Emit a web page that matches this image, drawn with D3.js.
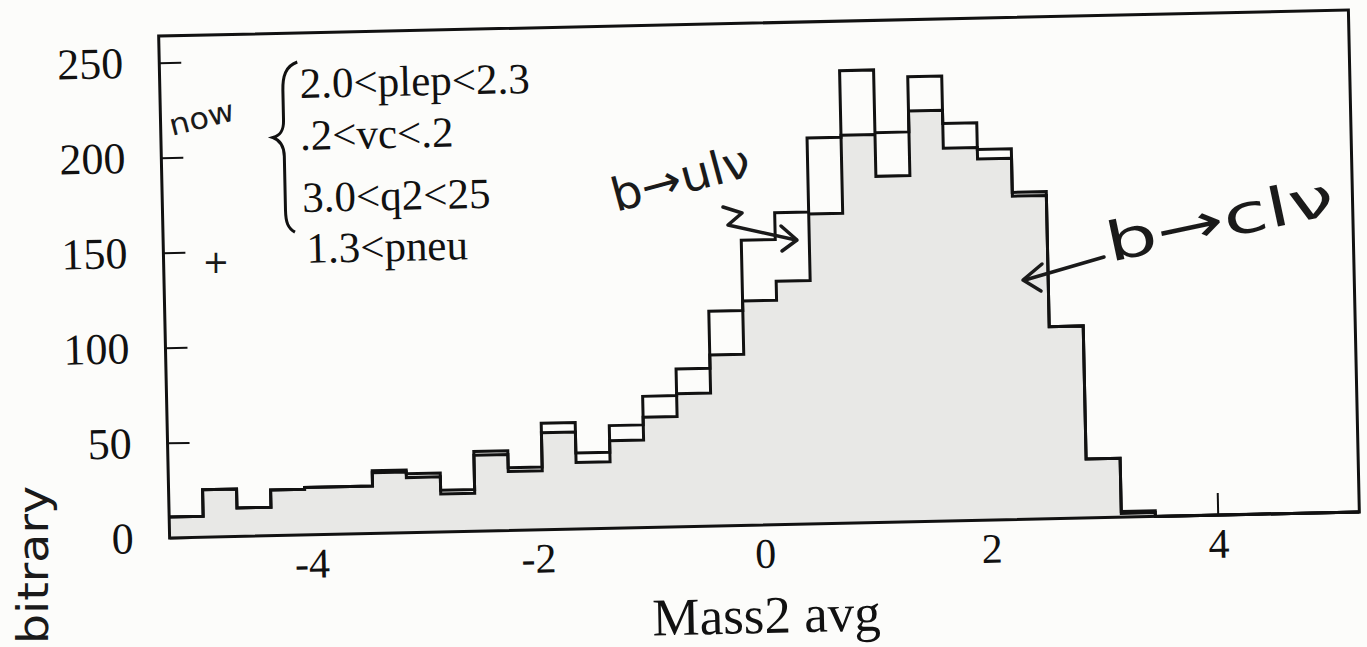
<!DOCTYPE html>
<html>
<head>
<meta charset="utf-8">
<script src="https://cdn.jsdelivr.net/npm/d3@7"></script>
<style>
  body { margin: 0; background: #fcfcfa; }
  svg { display: block; }
</style>
</head>
<body>
<svg id="chart" width="1367" height="647"></svg>
<script>
// bin starts (width 0.3) for Mass2 avg
const binStart = [-5.25, -4.95, -4.65, -4.35, -4.05, -3.75, -3.45, -3.15, -2.85, -2.55,
                  -2.25, -1.95, -1.65, -1.35, -1.05, -0.75, -0.45, -0.15, 0.15, 0.45,
                  0.75, 1.05, 1.35, 1.65, 1.95, 2.25, 2.55, 2.85, 3.15, 3.45,
                  3.75, 4.05, 4.35, 4.65, 4.95];
const binEnd = 5.25;

// b -> c l nu (grey filled histogram)
const clnu = [11, 25, 15, 24, 25, 25, 32, 29, 20, 40,
              31, 51, 35, 46, 58, 70, 90, 118, 128, 163,
              204, 182, 216, 196, 190, 170, 101, 31, 2, 0,
              0, 0, 0, 0, 0];
// b -> u l nu on top (outline histogram)
const ulnu = [11, 25, 15, 24, 25, 25, 33, 31, 22, 42,
              33, 56, 40, 54, 69, 83, 113, 150, 164, 203,
              238, 205, 234, 209, 195, 172, 101, 31, 3, 0,
              0, 0, 0, 0, 0];

const xTicks = [-4, -2, 0, 2, 4];
const yTicks = [0, 50, 100, 150, 200, 250];
const xTitle = "Mass2 avg";
const cuts = ["2.0<plep<2.3", ".2<vc<.2", "3.0<q2<25", "1.3<pneu"];

// plot frame (before the small scan tilt)
const frame = {left: 164, top: 23, right: 1354, bottom: 525};

const svg = d3.select("#chart");
const serif = "'Liberation Serif', 'Times New Roman', serif";
const hand = "'DejaVu Sans', sans-serif";

// the printed page is slightly rotated on the scan
const page = svg.append("g").attr("transform", "rotate(-1.25, 759, 274)");

const x = d3.scaleLinear().domain([binStart[0], binEnd]).range([frame.left, frame.right]);
const y = d3.scaleLinear().domain([0, 264]).range([frame.bottom, frame.top]);

// axes (ticks pointing inwards)
const yAxis = page.append("g")
    .attr("transform", "translate(" + frame.left + ",0)")
    .call(d3.axisLeft(y).tickValues(yTicks).tickSize(-22).tickPadding(36).tickFormat(d => String(d)));
const xAxis = page.append("g")
    .attr("transform", "translate(0," + frame.bottom + ")")
    .call(d3.axisBottom(x).tickValues(xTicks).tickSize(-22).tickPadding(13).tickFormat(d => String(d)));

[yAxis, xAxis].forEach(ax => {
    ax.select(".domain").remove();
    ax.selectAll(".tick line").attr("stroke", "#111").attr("stroke-width", 2);
    ax.selectAll(".tick text").attr("fill", "#111").style("font-family", serif);
});
yAxis.selectAll(".tick text").style("font-size", "44px");
xAxis.selectAll(".tick text").style("font-size", "42px");

// step histograms
function steps(vals) {
    const pts = binStart.map((b, i) => [b, vals[i]]);
    pts.push([binEnd, vals[vals.length - 1]]);
    return pts;
}

const area = d3.area()
    .curve(d3.curveStepAfter)
    .x(d => x(d[0]))
    .y0(y(0))
    .y1(d => y(d[1]));
const line = d3.line()
    .curve(d3.curveStepAfter)
    .x(d => x(d[0]))
    .y(d => y(d[1]));

page.append("path")
    .attr("d", area(steps(clnu)))
    .attr("fill", "#e8e8e6");
page.append("path")
    .attr("d", line(steps(clnu)))
    .attr("fill", "none")
    .attr("stroke", "#111")
    .attr("stroke-width", 3);
page.append("path")
    .attr("d", line(steps(ulnu)))
    .attr("fill", "none")
    .attr("stroke", "#111")
    .attr("stroke-width", 3);

// frame
page.append("rect")
    .attr("x", frame.left).attr("y", frame.top)
    .attr("width", frame.right - frame.left)
    .attr("height", frame.bottom - frame.top)
    .attr("fill", "none")
    .attr("stroke", "#111")
    .attr("stroke-width", 3);

// x axis title
page.append("text")
    .attr("x", x(0)).attr("y", 633)
    .attr("text-anchor", "middle")
    .style("font-family", serif)
    .style("font-size", "53px")
    .attr("fill", "#111")
    .text(xTitle);

// printed cut list with brace
const cutY = [88, 140, 202, 253];
const cutX = [304, 303, 304, 307];
page.selectAll(".cut")
    .data(cuts)
    .enter()
    .append("text")
    .attr("class", "cut")
    .attr("x", (d, i) => cutX[i])
    .attr("y", (d, i) => cutY[i])
    .style("font-family", serif)
    .style("font-size", "43px")
    .attr("fill", "#111")
    .text(d => d);

page.append("path")
    .attr("d", "M302,52 C290,56 287,66 287,80 L287,110 C287,120 284,125 276,127 C284,130 287,136 287,146 L287,200 C287,212 289,218 296,222")
    .attr("fill", "none")
    .attr("stroke", "#111")
    .attr("stroke-width", 3);

// handwritten notes (on top of the scan, not tilted with the page)
const notes = svg.append("g").attr("fill", "#1a1a1a").style("font-family", hand);

notes.append("text")
    .attr("transform", "translate(172,136) rotate(-14)")
    .style("font-size", "30px")
    .attr("textLength", 66)
    .attr("lengthAdjust", "spacingAndGlyphs")
    .text("now");
notes.append("text")
    .attr("x", 216).attr("y", 273)
    .attr("text-anchor", "middle")
    .style("font-size", "32px")
    .text("+");

notes.append("text")
    .attr("transform", "translate(616,212) rotate(-15)")
    .style("font-size", "46px")
    .attr("textLength", 142)
    .attr("lengthAdjust", "spacingAndGlyphs")
    .text("b→ulν");
notes.append("text")
    .attr("transform", "translate(1110,262) rotate(-12)")
    .style("font-size", "54px")
    .attr("textLength", 232)
    .attr("lengthAdjust", "spacingAndGlyphs")
    .text("b→clν");
notes.append("text")
    .attr("transform", "translate(48,644) rotate(-90)")
    .style("font-size", "42px")
    .attr("textLength", 158)
    .attr("lengthAdjust", "spacingAndGlyphs")
    .text("bitrary");

// hand-drawn arrows
const pen = notes.append("g")
    .attr("fill", "none")
    .attr("stroke", "#1a1a1a")
    .attr("stroke-width", 3.5)
    .attr("stroke-linecap", "round")
    .attr("stroke-linejoin", "round");
pen.append("path").attr("d", "M723,207 L742,213 L728,225 L796,240");
pen.append("path").attr("d", "M781,226 L797,240 L782,251");
pen.append("path").attr("d", "M1104,257 L1025,280");
pen.append("path").attr("d", "M1042,264 L1023,280 L1041,291");
</script>
</body>
</html>
